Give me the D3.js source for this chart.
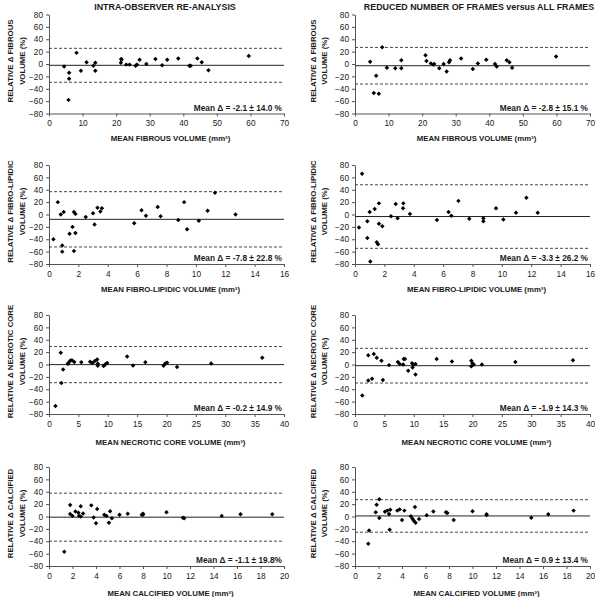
<!DOCTYPE html>
<html><head><meta charset="utf-8">
<script src="https://cdn.jsdelivr.net/npm/d3@7"></script>
<style>
html,body{margin:0;padding:0;background:#fff;}
svg{display:block;font-family:"Liberation Sans",Arial,sans-serif;}
</style></head>
<body>
<svg id="c" width="597" height="597"></svg>
<script>
// ---- data ----
const columnTitles = ["INTRA-OBSERVER RE-ANALYSIS", "REDUCED NUMBER OF FRAMES versus ALL FRAMES"];
const xTitles = ["MEAN FIBROUS VOLUME (mm\u00B3)", "MEAN FIBRO-LIPIDIC VOLUME (mm\u00B3)", "MEAN NECROTIC CORE VOLUME (mm\u00B3)", "MEAN CALCIFIED VOLUME (mm\u00B3)"];
const yTitles = ["RELATIVE \u0394 FIBROUS", "RELATIVE \u0394 FIBRO-LIPIDIC", "RELATIVE \u0394 NECROTIC CORE", "RELATIVE \u0394 CALCIFIED"];
const yTitle2 = "VOLUME (%)";
const xMax = [70, 16, 40, 20];
const xStep = [10, 2, 5, 2];
const yTicks = [-80, -60, -40, -20, 0, 20, 40, 60, 80];

// mean and SD of relative difference [intra-observer, reduced frames]
const meanDiff = [[-2.1, -2.8], [-7.8, -3.3], [-0.2, -1.9], [-1.1, 0.9]];
const sdDiff = [[14.0, 15.1], [22.8, 26.2], [14.9, 14.3], [19.8, 13.4]];
const meanLabels = [
  ["Mean \u0394 = -2.1 \u00B1 14.0 %", "Mean \u0394 = -2.8 \u00B1 15.1 %"],
  ["Mean \u0394 = -7.8 \u00B1 22.8 %", "Mean \u0394 = -3.3 \u00B1 26.2 %"],
  ["Mean \u0394 = -0.2 \u00B1 14.9 %", "Mean \u0394 = -1.9 \u00B1 14.3 %"],
  ["Mean \u0394 = -1.1 \u00B1 19.8%", "Mean \u0394 = 0.9 \u00B1 13.4 %"]
];

// Fibrous – intra-observer
const fibIntraX = [4.5, 6.0, 6.0, 5.8, 8.2, 9.5, 11.2, 13.2, 13.8, 13.8, 21.5, 21.6, 21.4, 23.0, 24.0, 25.8, 26.2, 27.0, 29.0, 31.7, 33.7, 35.2, 38.5, 41.8, 42.2, 44.2, 45.5, 47.5, 59.5];
const fibIntraY = [-4, -14, -24, -58, 18, -11, 3, -3, 2, -11, 8, 7, 2, -1, -1, -3, -1, 7, 0, 8, -2, 7, 9, -3, -3, 9, 3, -10, 13];
// Fibrous – reduced frames
const fibRedX = [4.5, 5.6, 6.3, 7.1, 8.1, 9.5, 12.0, 13.8, 13.8, 21.0, 21.3, 22.6, 23.3, 23.6, 25.1, 26.4, 27.3, 28.0, 28.3, 31.6, 35.1, 36.6, 39.1, 41.7, 42.2, 45.2, 46.0, 46.8, 59.9];
const fibRedY = [3.5, -47, -19, -48, 27, -6, -7, 6, -7, 14, 5, 1, -1, 0, -7, 0, -12, 3, 6, 9, -8, 1, 7, 0, -4, 6, 3, -6, 12];
// Fibro-lipidic – intra-observer
const flIntraX = [0.3, 0.6, 0.8, 0.9, 0.9, 1.0, 1.4, 1.6, 1.7, 1.8, 1.8, 1.7, 2.5, 3.0, 3.1, 3.3, 3.5, 3.6, 5.8, 6.3, 6.6, 7.4, 7.6, 8.8, 9.2, 9.4, 10.2, 10.8, 11.3, 12.7];
const flIntraY = [-40, 20, 0, -50, -60, 4, -31, -20, 4, 1, -30, -59, -4, 2, -16, 11, 5, 10, -14, 7, -2, 12, -3, -9, 20, -24, -10, 6, 35, 0];
// Fibro-lipidic – reduced frames
const flRedX = [0.27, 0.48, 0.84, 0.84, 1.0, 1.04, 1.34, 1.48, 1.57, 1.63, 1.63, 1.86, 2.45, 2.77, 2.9, 3.29, 3.27, 3.74, 5.58, 6.37, 6.56, 7.04, 7.78, 8.74, 8.74, 9.6, 10.1, 10.96, 11.67, 12.44];
const flRedY = [-21, 66, -11, -38, 4, -76, 9, -45, -48, 18, -15, -19, -3, 17, -6, 18, 10, 1, -9, 4, -2, 22, -7, -6, -11, 10, -8, 3, 27, 3];
// Necrotic core – intra-observer
const ncIntraX = [1.1, 2.0, 2.1, 2.4, 3.2, 3.3, 3.6, 3.9, 4.3, 5.5, 7.0, 7.4, 7.8, 8.2, 8.3, 8.3, 9.3, 9.6, 9.9, 13.3, 14.3, 16.4, 19.5, 19.8, 20.1, 21.8, 27.6, 36.3];
const ncIntraY = [-67, 19, -30, -8, 1, 2.5, 6, 7, 4, 3.5, 4.5, 2.5, 5.5, 8, 1.5, -2, -2.5, 0.5, 2.5, 13, -1.5, 3.5, -2, 1.5, 3, -4, 1.5, 11];
// Necrotic core – reduced frames
const ncRedX = [1.24, 2.26, 2.26, 2.9, 3.2, 3.7, 4.5, 4.75, 5.8, 7.3, 7.6, 8.2, 8.3, 8.5, 9.05, 9.7, 9.8, 10.0, 10.3, 10.3, 13.9, 16.5, 19.8, 19.8, 20.0, 20.2, 21.6, 27.3, 37.1];
const ncRedY = [-50, 15, -26, -23, 17, 11, 6, -25, -1, 4, 1, 0, 9, 9, -10, 2, -5, 0, -16, 1, 9, 5, 6, -3, 2, 0, 0, 4, 7];
// Calcified – intra-observer
const caIntraX = [1.3, 1.8, 1.8, 2.0, 2.25, 2.5, 2.55, 2.7, 2.7, 2.9, 3.6, 3.8, 4.0, 4.1, 4.7, 4.9, 5.1, 5.2, 5.35, 6.0, 6.7, 7.9, 8.0, 8.0, 10.0, 11.4, 11.5, 14.7, 16.3, 19.0];
const caIntraY = [-57, 18.5, 4, 1, 8, 6, 1, 16.5, 0, 5, 18, -1.5, -11, 12, 3, 1, -10, 8.5, -3, 3, 4.5, 3, 4.5, 3, 7, -2, -3, 1, 3.5, 3.5];
// Calcified – reduced frames
const caRedX = [1.13, 1.2, 1.76, 1.84, 2.07, 2.07, 2.55, 2.75, 2.9, 2.95, 3.0, 3.6, 3.8, 4.0, 4.2, 4.75, 4.9, 5.0, 5.1, 5.16, 5.45, 6.1, 6.67, 7.74, 7.86, 8.4, 10.0, 11.2, 11.2, 15.0, 16.45, 18.6];
const caRedY = [-44, -22.5, 7, 19, 28, -2.5, 7.5, 9.5, 4, -21.5, 11, 9.5, 11.5, -5.5, 9.5, 0.5, -3.5, -7, 15.5, -10, -4, 2, 8, 7, 5.5, -5.5, 8.5, 3.5, 2.5, -2, 3.5, 9.5];

const seriesX = [[fibIntraX, fibRedX], [flIntraX, flRedX], [ncIntraX, ncRedX], [caIntraX, caRedX]];
const seriesY = [[fibIntraY, fibRedY], [flIntraY, flRedY], [ncIntraY, ncRedY], [caIntraY, caRedY]];

// ---- layout ----
const colLeft = [49, 355];
const plotW = 235;
const rowTop = [14.5, 165, 315, 467];
const plotH = 99;
const xTitleOff = [27, 28, 31, 30];
const yLabOff = [[-39, -27.5], [-42.5, -31]];

const svg = d3.select("#c");
const ink = "#1a1a1a";

columnTitles.forEach((t, c) => {
  svg.append("text")
    .attr("x", c === 0 ? 165 : 479).attr("y", 9.5)
    .attr("text-anchor", "middle")
    .attr("font-size", 8.9).attr("font-weight", "bold").attr("fill", ink)
    .text(t);
});

for (let r = 0; r < 4; r++) {
  for (let c = 0; c < 2; c++) {
    const x = d3.scaleLinear().domain([0, xMax[r]]).range([colLeft[c], colLeft[c] + plotW]);
    const y = d3.scaleLinear().domain([-80, 80]).range([rowTop[r] + plotH, rowTop[r]]);
    const g = svg.append("g");

    // y axis
    const ya = g.append("g").attr("transform", `translate(${colLeft[c]},0)`)
      .call(d3.axisLeft(y).tickValues(yTicks).tickSize(3).tickSizeOuter(0).tickPadding(3));
    // x axis
    const xa = g.append("g").attr("transform", `translate(0,${rowTop[r] + plotH})`)
      .call(d3.axisBottom(x).tickValues(d3.range(0, xMax[r] + 0.001, xStep[r])).tickSize(3).tickSizeOuter(0).tickPadding(4));
    [ya, xa].forEach(a => {
      a.select(".domain").attr("stroke", "#555").attr("stroke-width", 1);
      a.selectAll(".tick line").attr("stroke", "#555");
      a.selectAll("text").attr("font-size", 8.3).attr("fill", ink).attr("font-family", "Liberation Sans, Arial, sans-serif");
    });

    const m = meanDiff[r][c], sd = sdDiff[r][c];
    const x0 = colLeft[c], x1 = colLeft[c] + plotW;
    // limits of agreement
    [m + 1.96 * sd, m - 1.96 * sd].forEach(v => {
      g.append("line").attr("x1", x0).attr("x2", x1).attr("y1", y(v)).attr("y2", y(v))
        .attr("stroke", "#333").attr("stroke-width", 0.9).attr("stroke-dasharray", "3,2");
    });
    g.append("line").attr("x1", x0).attr("x2", x1).attr("y1", y(m)).attr("y2", y(m))
      .attr("stroke", "#222").attr("stroke-width", 1);

    // points
    const xs = seriesX[r][c], ys = seriesY[r][c];
    const sym = d3.symbol().type(d3.symbolSquare).size(10);
    g.selectAll("path.pt").data(xs.map((v, i) => [v, ys[i]])).enter()
      .append("path").attr("class", "pt")
      .attr("transform", d => `translate(${x(d[0])},${y(d[1])}) rotate(45)`)
      .attr("d", sym).attr("fill", "#000");

    // mean label
    g.append("text").attr("x", x1 - 2).attr("y", rowTop[r] + plotH - 3)
      .attr("text-anchor", "end").attr("font-size", 8.3).attr("font-weight", "bold").attr("fill", ink)
      .text(meanLabels[r][c]);

    // x title
    g.append("text").attr("x", (x0 + x1) / 2 + 4).attr("y", rowTop[r] + plotH + xTitleOff[r])
      .attr("text-anchor", "middle").attr("font-size", 7.8).attr("font-weight", "bold").attr("fill", ink)
      .text(xTitles[r]);

    // y title (two lines)
    const cy = rowTop[r] + plotH / 2 - 3;
    [yTitles[r], yTitle2].forEach((t, k) => {
      const lx = colLeft[c] + yLabOff[c][k];
      g.append("text").attr("transform", `translate(${lx + 3},${cy}) rotate(-90)`)
        .attr("text-anchor", "middle").attr("font-size", 7.8).attr("font-weight", "bold").attr("fill", ink)
        .text(t);
    });
  }
}
</script>
</body></html>
